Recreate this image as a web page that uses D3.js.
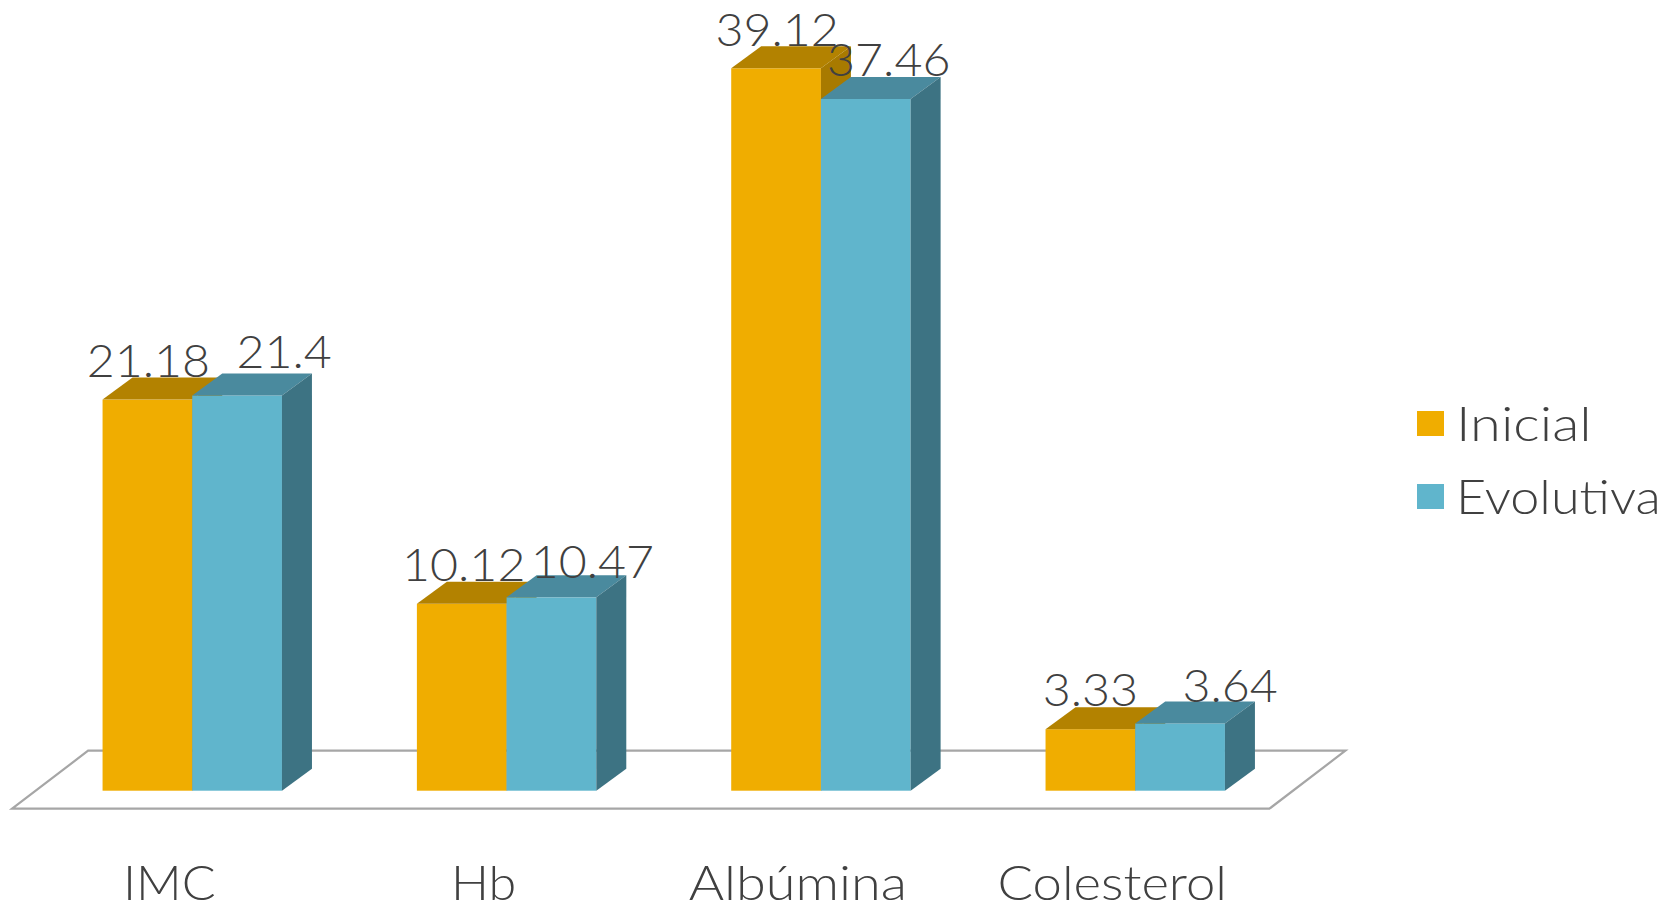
<!DOCTYPE html>
<html>
<head>
<meta charset="utf-8">
<script src="https://cdn.jsdelivr.net/npm/d3@7"></script>
<style>
html, body { margin: 0; padding: 0; background: #fff; }
text { font-family: "Lato", "Open Sans", sans-serif; font-weight: 300; fill: #404040; }
</style>
</head>
<body>
<div id="chart"></div>
<script>
const categories = ["IMC", "Hb", "Albúmina", "Colesterol"];
const seriesNames = ["Inicial", "Evolutiva"];
const inicial = [21.18, 10.12, 39.12, 3.33];
const evolutiva = [21.4, 10.47, 37.46, 3.64];
const valueLabels = [
    ["21.18", "10.12", "39.12", "3.33"],
    ["21.4", "10.47", "37.46", "3.64"]
];

const width = 1676, height = 905;
const depthX = 30, depthY = 22;
const colors = [
    { front: "#F0AD00", top: "#B38200", side: "#A87A00" },
    { front: "#60B5CC", top: "#4A8A9E", side: "#3D7383" }
];
// the labels were placed by hand in the original chart
const labelShift = [
    [1, 2, 1, 0],
    [47, 41, 23, 50]
];
const labelRaise = [
    [23, 23, 22, 23],
    [28, 19, 23, 21]
];

const svg = d3.select("#chart").append("svg")
    .attr("width", width)
    .attr("height", height)
    .style("display", "block");

// Lato is narrower than the original font, so stretch it a bit
function stretch(selection, k) {
    selection
        .attr("textLength", function(d, i) {
            return this.getComputedTextLength() * (Array.isArray(k) ? k[i] : k);
        })
        .attr("lengthAdjust", "spacingAndGlyphs");
}

const x = d3.scaleBand()
    .domain(categories)
    .range([35.1, 1292.4]);

const groupWidth = 179.4;
const xSeries = d3.scaleBand()
    .domain(seriesNames)
    .range([(x.bandwidth() - groupWidth) / 2, (x.bandwidth() + groupWidth) / 2]);

const y = d3.scaleLinear()
    .domain([0, 39.12])
    .range([790.7, 68.3]);

// floor
const floorLeft = x.range()[0] - 23;
const floorRight = x.range()[1] - 23;
const floorFront = y(0) + 18;
const floorBack = y(0) - 40;
svg.append("path")
    .attr("d", d3.line()([
        [floorLeft, floorFront],
        [floorLeft + 76, floorBack],
        [floorRight + 76, floorBack],
        [floorRight, floorFront]
    ]) + "Z")
    .attr("fill", "#fff")
    .attr("stroke", "#A6A6A6")
    .attr("stroke-width", 2.2);

// bars, orange first so the blue one sits over its side face
[inicial, evolutiva].forEach(function(values, s) {
    const bars = svg.append("g").selectAll("g")
        .data(values)
        .enter()
        .append("g")
        .attr("transform", function(d, i) {
            return "translate(" + (x(categories[i]) + xSeries(seriesNames[s])) + ",0)";
        });
    const w = xSeries.bandwidth();

    bars.append("rect")
        .attr("y", function(d) { return y(d); })
        .attr("width", w)
        .attr("height", function(d) { return y(0) - y(d); })
        .attr("fill", colors[s].front);

    bars.append("path")
        .attr("d", function(d) {
            return d3.line()([[0, y(d)], [depthX, y(d) - depthY], [w + depthX, y(d) - depthY], [w, y(d)]]) + "Z";
        })
        .attr("fill", colors[s].top);

    bars.append("path")
        .attr("d", function(d) {
            return d3.line()([[w, y(d)], [w + depthX, y(d) - depthY], [w + depthX, y(0) - depthY], [w, y(0)]]) + "Z";
        })
        .attr("fill", colors[s].side);
});

// value labels on top of every bar
[inicial, evolutiva].forEach(function(values, s) {
    svg.append("g").selectAll("text")
        .data(values)
        .enter()
        .append("text")
        .attr("x", function(d, i) {
            return x(categories[i]) + xSeries(seriesNames[s]) + xSeries.bandwidth() / 2 + labelShift[s][i];
        })
        .attr("y", function(d, i) { return y(d) - labelRaise[s][i]; })
        .attr("text-anchor", "middle")
        .style("font-size", "46px")
        .text(function(d, i) { return valueLabels[s][i]; })
        .call(stretch, 1.05);
});

// category axis, sits under the floor so it is shifted a bit to the left
const axis = svg.append("g")
    .attr("transform", "translate(-23," + 900 + ")")
    .call(d3.axisBottom(x).tickSize(0).tickPadding(0));
axis.select(".domain").remove();
axis.selectAll("text")
    .attr("y", 0)
    .attr("dy", 0)
    .style("font-size", "47px")
    .call(stretch, [1.07, 1.07, 1.15, 1.12]);

// legend
const legendY = d3.scaleOrdinal().domain(seriesNames).range([411, 484]);
const legend = svg.append("g").selectAll("g")
    .data(seriesNames)
    .enter()
    .append("g")
    .attr("transform", function(d) { return "translate(1417," + legendY(d) + ")"; });
legend.append("rect")
    .attr("width", 27)
    .attr("height", 25)
    .attr("fill", function(d, i) { return colors[i].front; });
legend.append("text")
    .attr("x", 39)
    .attr("y", 30)
    .style("font-size", "47px")
    .text(function(d) { return d; })
    .call(stretch, [1.19, 1.11]);
</script>
</body>
</html>
